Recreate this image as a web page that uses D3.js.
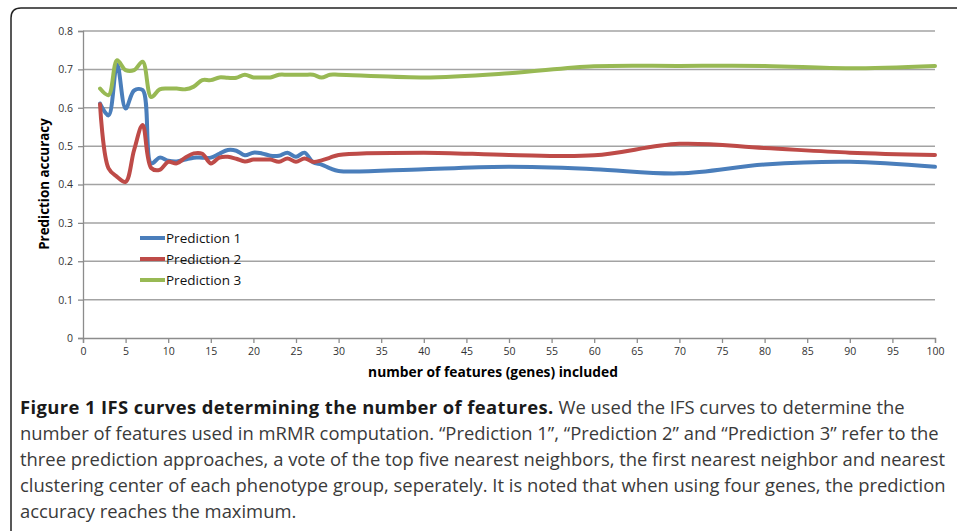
<!DOCTYPE html>
<html>
<head>
<meta charset="utf-8">
<script src="https://cdn.jsdelivr.net/npm/d3@7"></script>
<style>
body { margin: 0; background: #fff; }
svg { display: block; }
</style>
</head>
<body>
<svg id="chart" width="957" height="531"></svg>
<script>
// x values: every gene count from 2 to 30, then every 10
var features = [2,3,4,5,6,7,8,9,10,11,12,13,14,15,16,17,18,19,20,21,22,23,24,25,26,27,28,29,30,40,50,60,70,80,90,100];

var pred1 = [0.611,0.58,0.713,0.598,0.645,0.646,0.455,0.47,0.462,0.46,0.465,0.47,0.47,0.47,0.48,0.49,0.488,0.476,0.483,0.481,0.475,0.475,0.483,0.472,0.483,0.458,0.452,0.442,0.435,0.44,0.446,0.44,0.429,0.452,0.459,0.446];
var pred2 = [0.609,0.442,0.42,0.407,0.49,0.555,0.443,0.438,0.459,0.455,0.47,0.481,0.48,0.455,0.47,0.472,0.467,0.46,0.465,0.465,0.465,0.459,0.468,0.459,0.468,0.459,0.463,0.47,0.477,0.483,0.477,0.476,0.506,0.495,0.483,0.477];
var pred3 = [0.65,0.633,0.724,0.698,0.698,0.72,0.628,0.648,0.65,0.65,0.648,0.655,0.672,0.672,0.679,0.678,0.678,0.686,0.679,0.679,0.679,0.686,0.686,0.686,0.686,0.686,0.679,0.686,0.686,0.679,0.69,0.708,0.709,0.709,0.703,0.709];

var seriesNames = ['Prediction 1', 'Prediction 2', 'Prediction 3'];
var seriesColors = ['#4a7ebb', '#be4b48', '#98b954'];

var xTicks = [0,5,10,15,20,25,30,35,40,45,50,55,60,65,70,75,80,85,90,95,100];
var yTicks = [0,0.1,0.2,0.3,0.4,0.5,0.6,0.7,0.8];

var captionBold = 'Figure 1 IFS curves determining the number of features.';
var captionLines = [
    ' We used the IFS curves to determine the',
    'number of features used in mRMR computation. \u201cPrediction 1\u201d, \u201cPrediction 2\u201d and \u201cPrediction 3\u201d refer to the',
    'three prediction approaches, a vote of the top five nearest neighbors, the first nearest neighbor and nearest',
    'clustering center of each phenotype group, seperately. It is noted that when using four genes, the prediction',
    'accuracy reaches the maximum.'
];

var svg = d3.select('#chart');

// frame round the figure (runs off the right and bottom edge)
svg.append('path')
    .attr('d', 'M11,540 L11,18 Q11,8 21,8 L970,8')
    .attr('fill', 'none')
    .attr('stroke', '#222')
    .attr('stroke-width', 1.5);

var x = d3.scaleLinear().domain([0, 100]).range([83, 935]);
var y = d3.scaleLinear().domain([0, 0.8]).range([338, 31]);

// gridlines
svg.append('g').selectAll('line')
    .data(yTicks.filter(function(d){ return d > 0; }))
    .enter().append('line')
    .attr('x1', 83).attr('x2', 935)
    .attr('y1', function(d){ return y(d); })
    .attr('y2', function(d){ return y(d); })
    .attr('stroke', '#a3a3a3')
    .attr('stroke-width', 1.5);

var fontTick = '"Open Sans", sans-serif';

var yAxis = svg.append('g')
    .attr('transform', 'translate(83,0)')
    .call(d3.axisLeft(y).tickValues(yTicks).tickSize(5).tickPadding(5)
        .tickFormat(function(d){ return d === 0 ? '0' : d3.format('.1f')(d); }));

var xAxis = svg.append('g')
    .attr('transform', 'translate(0,338)')
    .call(d3.axisBottom(x).tickValues(xTicks).tickSize(5).tickPadding(5));

[xAxis, yAxis].forEach(function(ax){
    ax.select('.domain').attr('stroke', '#8c8c8c').attr('stroke-width', 1.3);
    ax.selectAll('.tick line').attr('stroke', '#8c8c8c').attr('stroke-width', 1.3);
    ax.selectAll('.tick text')
        .attr('fill', '#333')
        .style('font-family', fontTick)
        .style('font-size', '10.5px');
});

// axis titles
svg.append('text')
    .attr('transform', 'translate(49,184) rotate(-90)')
    .attr('text-anchor', 'middle')
    .style('font-family', fontTick)
    .style('font-size', '13.4px')
    .style('font-weight', 'bold')
    .text('Prediction accuracy');

svg.append('text')
    .attr('x', 493).attr('y', 376.5)
    .attr('text-anchor', 'middle')
    .style('font-family', fontTick)
    .style('font-size', '13.8px')
    .style('font-weight', 'bold')
    .text('number of features (genes) included');

// the curves
var line = d3.line()
    .x(function(d){ return x(d[0]); })
    .y(function(d){ return y(d[1]); })
    .curve(d3.curveCatmullRom.alpha(0.5));

var allSeries = [pred1, pred2, pred3];
allSeries.forEach(function(vals, i){
    var pts = features.map(function(f, j){ return [f, vals[j]]; });
    svg.append('path')
        .datum(pts)
        .attr('d', line)
        .attr('fill', 'none')
        .attr('stroke', seriesColors[i])
        .attr('stroke-width', 4)
        .attr('stroke-linejoin', 'round')
        .attr('stroke-linecap', 'round');
});

// legend
var legend = svg.append('g').attr('transform', 'translate(140,238)');
seriesNames.forEach(function(name, i){
    legend.append('line')
        .attr('x1', 0).attr('x2', 25)
        .attr('y1', i * 21).attr('y2', i * 21)
        .attr('stroke', seriesColors[i])
        .attr('stroke-width', 4);
    legend.append('text')
        .attr('x', 26).attr('y', i * 21 + 5)
        .style('font-family', fontTick)
        .style('font-size', '13.5px')
        .attr('fill', '#111')
        .text(name);
});

// caption
var cap = svg.append('g')
    .style('font-family', '"Open Sans", sans-serif')
    .style('font-size', '18.4px')
    .attr('fill', '#3a3a3a');

var first = cap.append('text').attr('x', 20).attr('y', 413.5);
first.append('tspan')
    .style('font-weight', 'bold')
    .style('letter-spacing', '0.4px')
    .attr('fill', '#1a1a1a')
    .text(captionBold);
first.append('tspan').text(captionLines[0]);

captionLines.slice(1).forEach(function(t, i){
    cap.append('text')
        .attr('x', 20)
        .attr('y', 413.5 + (i + 1) * 26)
        .text(t);
});
</script>
</body>
</html>
